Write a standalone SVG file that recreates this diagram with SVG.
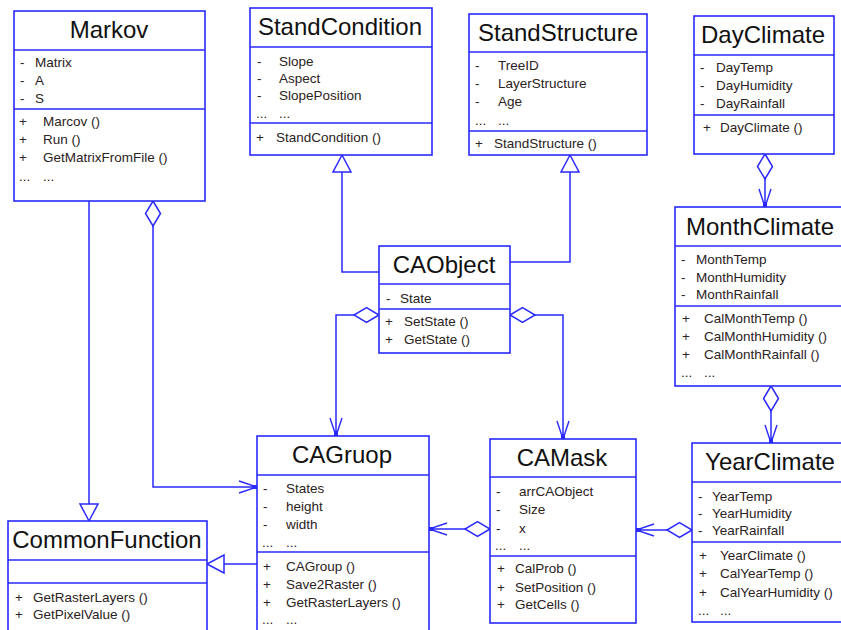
<svg xmlns="http://www.w3.org/2000/svg" width="841" height="630" viewBox="0 0 841 630">
<style>
.box{fill:#fff;stroke:#2a2aff;stroke-width:1.6}
.div{stroke:#2a2aff;stroke-width:1.6}
.t{font-family:"Liberation Sans",Arial,sans-serif;font-size:24px;fill:#111;text-anchor:middle}
.m{font-family:"Liberation Sans",Arial,sans-serif;font-size:13.5px;fill:#2b2222}
.c{fill:none;stroke:#2a2aff;stroke-width:1.5}
</style>
<defs>
<marker id="arr" markerUnits="userSpaceOnUse" viewBox="-20 -8 22 16" markerWidth="22" markerHeight="16" refX="0" refY="0" orient="auto">
<path d="M-18,-6 L0,0 L-18,6" fill="none" stroke="#2a2aff" stroke-width="1.4"/>
<rect x="-5" y="-2" width="5" height="4" fill="#2a2aff"/>
</marker>
<marker id="tri" markerUnits="userSpaceOnUse" viewBox="-20 -11 22 22" markerWidth="22" markerHeight="22" refX="0" refY="0" orient="auto">
<path d="M0,0 L-17,-9 L-17,9 Z" fill="#fff" stroke="#2a2aff" stroke-width="1.5"/>
</marker>
<marker id="dia" markerUnits="userSpaceOnUse" viewBox="-2 -10 30 20" markerWidth="30" markerHeight="20" refX="0" refY="0" orient="auto">
<path d="M0,0 L12.5,-7.5 L25,0 L12.5,7.5 Z" fill="#fff" stroke="#2a2aff" stroke-width="1.5"/>
</marker>
</defs>

<g id="connectors">
<path class="c" d="M89,201 V521" marker-end="url(#tri)"/>
<path class="c" d="M153,201 V487 H257" marker-start="url(#dia)" marker-end="url(#arr)"/>
<path class="c" d="M257,564 H207" marker-end="url(#tri)"/>
<path class="c" d="M379,272 H342 V155" marker-end="url(#tri)"/>
<path class="c" d="M510,262 H570 V155" marker-end="url(#tri)"/>
<path class="c" d="M379,315 H336 V436" marker-start="url(#dia)" marker-end="url(#arr)"/>
<path class="c" d="M510,315 H563 V439" marker-start="url(#dia)" marker-end="url(#arr)"/>
<path class="c" d="M490,529 H429" marker-start="url(#dia)" marker-end="url(#arr)"/>
<path class="c" d="M692,530 H636" marker-start="url(#dia)" marker-end="url(#arr)"/>
<path class="c" d="M765,154 V207" marker-start="url(#dia)" marker-end="url(#arr)"/>
<path class="c" d="M771,386 V443" marker-start="url(#dia)" marker-end="url(#arr)"/>
</g>

<g id="Markov">
<rect class="box" x="14" y="11" width="191" height="190"/>
<line class="div" x1="14" y1="50" x2="205" y2="50"/>
<line class="div" x1="14" y1="109" x2="205" y2="109"/>
<text class="t" x="109" y="38">Markov</text>
<text class="m" x="20" y="67">-</text><text class="m" x="35" y="67">Matrix</text>
<text class="m" x="20" y="85">-</text><text class="m" x="35" y="85">A</text>
<text class="m" x="20" y="103">-</text><text class="m" x="35" y="103">S</text>
<text class="m" x="19" y="126">+</text><text class="m" x="43" y="126">Marcov ()</text>
<text class="m" x="19" y="144">+</text><text class="m" x="43" y="144">Run ()</text>
<text class="m" x="19" y="162">+</text><text class="m" x="43" y="162">GetMatrixFromFile ()</text>
<text class="m" x="19" y="181">...</text><text class="m" x="43" y="181">...</text>
</g>

<g id="StandCondition">
<rect class="box" x="250" y="8" width="182" height="147"/>
<line class="div" x1="250" y1="47" x2="432" y2="47"/>
<line class="div" x1="250" y1="123" x2="432" y2="123"/>
<text class="t" x="340" y="35">StandCondition</text>
<text class="m" x="257" y="66">-</text><text class="m" x="279" y="66">Slope</text>
<text class="m" x="257" y="83">-</text><text class="m" x="279" y="83">Aspect</text>
<text class="m" x="257" y="100">-</text><text class="m" x="279" y="100">SlopePosition</text>
<text class="m" x="256" y="118">...</text><text class="m" x="279" y="118">...</text>
<text class="m" x="256" y="142">+</text><text class="m" x="276" y="142">StandCondition ()</text>
</g>

<g id="StandStructure">
<rect class="box" x="469" y="14" width="178" height="141"/>
<line class="div" x1="469" y1="52" x2="647" y2="52"/>
<line class="div" x1="469" y1="131" x2="647" y2="131"/>
<text class="t" x="558" y="41">StandStructure</text>
<text class="m" x="475" y="70">-</text><text class="m" x="498" y="70">TreeID</text>
<text class="m" x="475" y="88">-</text><text class="m" x="498" y="88">LayerStructure</text>
<text class="m" x="475" y="106">-</text><text class="m" x="498" y="106">Age</text>
<text class="m" x="475" y="125">...</text><text class="m" x="498" y="125">...</text>
<text class="m" x="475" y="148">+</text><text class="m" x="494" y="148">StandStructure ()</text>
</g>

<g id="DayClimate">
<rect class="box" x="694" y="16" width="140" height="138"/>
<line class="div" x1="694" y1="55" x2="834" y2="55"/>
<line class="div" x1="694" y1="115" x2="834" y2="115"/>
<text class="t" x="763" y="43">DayClimate</text>
<text class="m" x="700" y="72">-</text><text class="m" x="716" y="72">DayTemp</text>
<text class="m" x="700" y="90">-</text><text class="m" x="716" y="90">DayHumidity</text>
<text class="m" x="700" y="108">-</text><text class="m" x="716" y="108">DayRainfall</text>
<text class="m" x="703" y="132">+</text><text class="m" x="720" y="132">DayClimate ()</text>
</g>

<g id="MonthClimate">
<rect class="box" x="675" y="207" width="180" height="179"/>
<line class="div" x1="675" y1="246" x2="855" y2="246"/>
<line class="div" x1="675" y1="306" x2="855" y2="306"/>
<text class="t" x="760" y="235">MonthClimate</text>
<text class="m" x="681" y="264">-</text><text class="m" x="696" y="264">MonthTemp</text>
<text class="m" x="681" y="282">-</text><text class="m" x="696" y="282">MonthHumidity</text>
<text class="m" x="681" y="299">-</text><text class="m" x="696" y="299">MonthRainfall</text>
<text class="m" x="682" y="323">+</text><text class="m" x="704" y="323">CalMonthTemp ()</text>
<text class="m" x="682" y="341">+</text><text class="m" x="704" y="341">CalMonthHumidity ()</text>
<text class="m" x="682" y="359">+</text><text class="m" x="704" y="359">CalMonthRainfall ()</text>
<text class="m" x="681" y="377">...</text><text class="m" x="704" y="377">...</text>
</g>

<g id="YearClimate">
<rect class="box" x="692" y="443" width="165" height="179"/>
<line class="div" x1="692" y1="482" x2="857" y2="482"/>
<line class="div" x1="692" y1="542" x2="857" y2="542"/>
<text class="t" x="770" y="470">YearClimate</text>
<text class="m" x="698" y="501">-</text><text class="m" x="712" y="501">YearTemp</text>
<text class="m" x="698" y="518">-</text><text class="m" x="712" y="518">YearHumidity</text>
<text class="m" x="698" y="535">-</text><text class="m" x="712" y="535">YearRainfall</text>
<text class="m" x="699" y="560">+</text><text class="m" x="720" y="560">YearClimate ()</text>
<text class="m" x="699" y="578">+</text><text class="m" x="720" y="578">CalYearTemp ()</text>
<text class="m" x="699" y="597">+</text><text class="m" x="720" y="597">CalYearHumidity ()</text>
<text class="m" x="698" y="615">...</text><text class="m" x="720" y="615">...</text>
</g>

<g id="CAObject">
<rect class="box" x="379" y="246" width="131" height="107"/>
<line class="div" x1="379" y1="284" x2="510" y2="284"/>
<line class="div" x1="379" y1="309" x2="510" y2="309"/>
<text class="t" x="444" y="273">CAObject</text>
<text class="m" x="386" y="303">-</text><text class="m" x="400" y="303">State</text>
<text class="m" x="385" y="326">+</text><text class="m" x="404" y="326">SetState ()</text>
<text class="m" x="385" y="344">+</text><text class="m" x="404" y="344">GetState ()</text>
</g>

<g id="CAGruop">
<rect class="box" x="257" y="436" width="172" height="210"/>
<line class="div" x1="257" y1="475" x2="429" y2="475"/>
<line class="div" x1="257" y1="552" x2="429" y2="552"/>
<text class="t" x="342" y="463">CAGruop</text>
<text class="m" x="263" y="493">-</text><text class="m" x="286" y="493">States</text>
<text class="m" x="263" y="511">-</text><text class="m" x="286" y="511">height</text>
<text class="m" x="263" y="529">-</text><text class="m" x="286" y="529">width</text>
<text class="m" x="262" y="547">...</text><text class="m" x="286" y="547">...</text>
<text class="m" x="263" y="571">+</text><text class="m" x="286" y="571">CAGroup ()</text>
<text class="m" x="263" y="589">+</text><text class="m" x="286" y="589">Save2Raster ()</text>
<text class="m" x="263" y="607">+</text><text class="m" x="286" y="607">GetRasterLayers ()</text>
<text class="m" x="262" y="624">...</text><text class="m" x="286" y="624">...</text>
</g>

<g id="CAMask">
<rect class="box" x="490" y="439" width="146" height="184"/>
<line class="div" x1="490" y1="477" x2="636" y2="477"/>
<line class="div" x1="490" y1="556" x2="636" y2="556"/>
<text class="t" x="562" y="466">CAMask</text>
<text class="m" x="496" y="496">-</text><text class="m" x="519" y="496">arrCAObject</text>
<text class="m" x="496" y="514">-</text><text class="m" x="519" y="514">Size</text>
<text class="m" x="496" y="533">-</text><text class="m" x="519" y="533">x</text>
<text class="m" x="495" y="550">...</text><text class="m" x="519" y="550">...</text>
<text class="m" x="497" y="573">+</text><text class="m" x="515" y="573">CalProb ()</text>
<text class="m" x="497" y="592">+</text><text class="m" x="515" y="592">SetPosition ()</text>
<text class="m" x="497" y="609">+</text><text class="m" x="515" y="609">GetCells ()</text>
</g>

<g id="CommonFunction">
<rect class="box" x="8" y="521" width="199" height="130"/>
<line class="div" x1="8" y1="560" x2="207" y2="560"/>
<line class="div" x1="8" y1="583" x2="207" y2="583"/>
<text class="t" x="107" y="548">CommonFunction</text>
<text class="m" x="15" y="602">+</text><text class="m" x="33" y="602">GetRasterLayers ()</text>
<text class="m" x="15" y="619">+</text><text class="m" x="33" y="619">GetPixelValue ()</text>
</g>
</svg>
